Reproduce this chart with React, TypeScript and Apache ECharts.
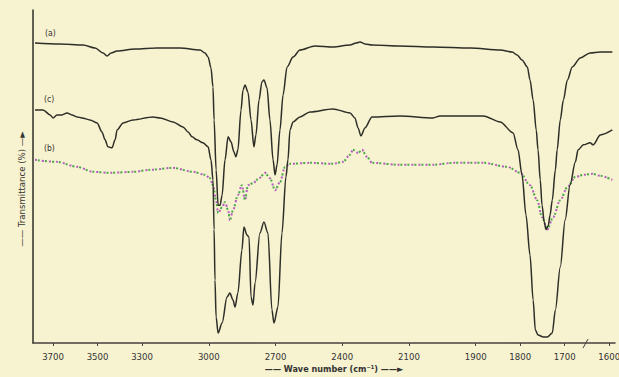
import React, { useEffect, useRef } from "react";
import * as echarts from "echarts";

// Wavenumbers (cm^-1) and transmittance (%)
const waveA = [3781, 3669, 3565, 3511, 3475, 3457, 3439, 3412, 3331, 3233, 3129, 3039, 3017, 3003, 2990, 2981, 2976, 2967, 2958, 2949, 2940, 2927, 2913, 2900, 2887, 2878, 2869, 2855, 2846, 2837, 2824, 2810, 2797, 2788, 2774, 2761, 2752, 2738, 2725, 2711, 2702, 2693, 2680, 2666, 2648, 2621, 2590, 2523, 2442, 2365, 2338, 2320, 2298, 2266, 2141, 1996, 1912, 1845, 1818, 1807, 1796, 1784, 1778, 1771, 1764, 1760, 1755, 1751, 1746, 1742, 1737, 1733, 1728, 1721, 1717, 1710, 1703, 1694, 1683, 1665, 1643, 1620, 1593];
const transA = [90.1, 89.8, 89.5, 88.6, 87.1, 86.2, 87.1, 87.7, 88.3, 88.6, 88.6, 88.0, 87.1, 85.9, 82.6, 76.9, 67.0, 52.0, 41.4, 41.4, 44.4, 55.0, 61.9, 60.4, 57.4, 55.9, 58.0, 70.0, 76.0, 77.5, 75.4, 67.0, 58.9, 62.5, 73.0, 78.4, 79.0, 76.6, 67.0, 55.0, 50.5, 53.5, 64.0, 74.5, 82.9, 85.9, 88.0, 89.2, 88.9, 89.5, 90.1, 90.4, 89.8, 89.5, 89.2, 88.9, 88.6, 88.0, 87.4, 86.5, 85.0, 82.9, 79.0, 73.0, 64.0, 58.0, 49.0, 41.4, 36.3, 34.1, 35.2, 38.4, 42.9, 52.0, 58.0, 67.0, 73.0, 79.0, 82.9, 85.6, 87.1, 87.4, 87.4];

const waveC = [3781, 3745, 3713, 3700, 3682, 3660, 3637, 3615, 3592, 3570, 3534, 3502, 3480, 3466, 3453, 3435, 3421, 3412, 3385, 3340, 3251, 3219, 3161, 3116, 3093, 3075, 3053, 3026, 3003, 2990, 2981, 2976, 2972, 2967, 2958, 2940, 2918, 2905, 2891, 2882, 2869, 2851, 2842, 2828, 2819, 2810, 2801, 2792, 2770, 2752, 2734, 2716, 2707, 2689, 2671, 2653, 2644, 2635, 2621, 2590, 2545, 2442, 2365, 2343, 2329, 2316, 2298, 2266, 2141, 1996, 1980, 1883, 1845, 1816, 1805, 1796, 1787, 1778, 1771, 1766, 1760, 1748, 1739, 1728, 1721, 1710, 1699, 1688, 1676, 1670, 1658, 1643, 1636, 1620, 1593];
const transC = [70.0, 70.0, 68.5, 67.6, 68.5, 68.5, 69.1, 68.5, 67.9, 67.6, 67.0, 66.1, 63.4, 61.0, 58.9, 58.6, 61.0, 64.0, 66.1, 67.0, 67.9, 67.6, 66.4, 64.9, 63.4, 61.9, 61.0, 60.1, 58.9, 55.0, 49.0, 34.1, 18.9, 7.8, 3.0, 6.0, 13.8, 15.0, 12.9, 10.8, 15.0, 27.9, 34.8, 32.4, 31.8, 13.8, 11.4, 18.0, 33.0, 36.3, 33.0, 9.9, 6.0, 10.8, 33.0, 49.9, 55.0, 64.0, 66.4, 67.9, 69.4, 70.3, 69.1, 67.6, 64.6, 62.2, 64.6, 67.9, 68.2, 67.6, 68.2, 68.2, 66.4, 63.1, 58.0, 50.5, 38.4, 26.4, 12.9, 3.9, 2.4, 1.8, 1.8, 3.0, 9.9, 22.8, 37.0, 47.5, 54.4, 58.0, 59.5, 60.1, 59.5, 62.5, 64.0];

const waveB = [3781, 3682, 3592, 3520, 3444, 3340, 3264, 3161, 3071, 3017, 2994, 2981, 2967, 2958, 2940, 2927, 2913, 2905, 2891, 2869, 2851, 2837, 2824, 2801, 2774, 2747, 2725, 2702, 2680, 2657, 2635, 2545, 2442, 2397, 2365, 2352, 2329, 2311, 2289, 2266, 2141, 1996, 1951, 1883, 1829, 1800, 1778, 1762, 1751, 1739, 1726, 1710, 1694, 1676, 1658, 1638, 1620, 1593];
const transB = [55.0, 54.4, 52.9, 51.4, 51.1, 51.4, 52.0, 52.6, 51.4, 50.5, 49.5, 47.4, 42.9, 39.0, 40.8, 42.3, 39.9, 36.9, 39.9, 44.4, 47.4, 42.9, 47.4, 48.0, 49.5, 51.1, 49.5, 45.9, 48.3, 52.9, 53.8, 54.1, 53.8, 54.4, 56.5, 58.0, 57.1, 58.0, 55.9, 54.1, 53.5, 53.5, 54.1, 54.1, 52.9, 51.1, 47.4, 42.9, 37.8, 34.1, 37.8, 42.9, 46.8, 49.9, 50.5, 50.8, 50.2, 49.0];

const tickWaves = [3700, 3500, 3300, 3000, 2700, 2400, 2100, 1900, 1800, 1700, 1600];
const curveNames = ["(a)", "(c)", "(b)"];
const xTitle = "—— Wave number (cm⁻¹) ——►";
const yTitle = "—— Transmittance (%) —►";

// Scale change at 2000 cm^-1 (expanded by 2 below)
const toT = (w: number) => (w >= 2000 ? w : 2000 - 2 * (2000 - w));
const fromT = (t: number) => (t >= 2000 ? t : 2000 - (2000 - t) / 2);

const INK = "#2e2e28";
const BG = "#f7f2cf";

export default function App() {
  const ref = useRef<HTMLDivElement>(null);
  useEffect(() => {
    if (!ref.current) return;
    const chart = echarts.init(ref.current, undefined, { renderer: "svg", width: 619, height: 377 });
    const mk = (ws: number[], vs: number[]) => ws.map((w, i) => [toT(w), vs[i]]);
    const tickT = tickWaves.map(toT);
    const font = "'Liberation Sans Narrow', 'DejaVu Sans Condensed', 'DejaVu Sans', sans-serif";
    chart.setOption({
      animation: false,
      backgroundColor: BG,
      grid: { left: 33, right: 4, top: 10, bottom: 34, containLabel: false, outerBoundsMode: "none" },
      xAxis: {
        type: "value",
        inverse: true,
        min: 1174,
        max: 3790,
        axisLine: { show: true, lineStyle: { color: "#4a4040", width: 1.5 } },
        axisTick: { show: true, customValues: tickT, length: 3, lineStyle: { color: "#4a4040" } },
        axisLabel: {
          customValues: tickT,
          formatter: (v: number) => String(Math.round(fromT(v))),
          color: "#333",
          fontSize: 9.5,
          fontFamily: font,
          margin: 8,
          hideOverlap: false,
        },
        splitLine: { show: false },
      },
      yAxis: {
        type: "value",
        min: 0,
        max: 100,
        axisLine: { show: true, lineStyle: { color: INK, width: 1.5 } },
        axisTick: { show: false },
        axisLabel: { show: false },
        splitLine: { show: false },
      },
      graphic: [
        {
          type: "text",
          x: 334,
          y: 369,
          style: {
            text: xTitle,
            fill: "#333",
            font: `bold 9px ${font}`,
            align: "center",
            verticalAlign: "middle",
          },
        },
        {
          type: "text",
          x: 21,
          y: 189,
          rotation: Math.PI / 2,
          style: {
            text: yTitle,
            fill: "#333",
            font: `9.5px ${font}`,
            align: "center",
            verticalAlign: "middle",
          },
        },
        { type: "text", x: 45, y: 33, style: { text: curveNames[0], fill: "#333", font: `8.5px ${font}`, verticalAlign: "middle" } },
        { type: "text", x: 44, y: 99, style: { text: curveNames[1], fill: "#333", font: `8.5px ${font}`, verticalAlign: "middle" } },
        { type: "text", x: 44, y: 148, style: { text: curveNames[2], fill: "#333", font: `8.5px ${font}`, verticalAlign: "middle" } },
        { type: "line", shape: { x1: 583, y1: 348, x2: 588, y2: 339 }, style: { stroke: "#4a4040", lineWidth: 1 } },
      ],
      series: [
        {
          type: "line",
          data: mk(waveB, transB),
          showSymbol: false,
          smooth: 0.3,
          smoothMonotone: "x",
          lineStyle: { color: "#b25fbf", width: 2, type: [2, 5], dashOffset: 0 },
          z: 2,
        },
        {
          type: "line",
          data: mk(waveB, transB),
          showSymbol: false,
          smooth: 0.3,
          smoothMonotone: "x",
          lineStyle: { color: "#4aa84a", width: 2, type: [2, 5], dashOffset: 3.5 },
          z: 2,
        },
        {
          type: "line",
          data: mk(waveA, transA),
          showSymbol: false,
          smooth: 0.3,
          smoothMonotone: "x",
          lineStyle: { color: INK, width: 1.5 },
          z: 3,
        },
        {
          type: "line",
          data: mk(waveC, transC),
          showSymbol: false,
          smooth: 0.3,
          smoothMonotone: "x",
          lineStyle: { color: INK, width: 1.5 },
          z: 3,
        },
      ],
    });
    return () => chart.dispose();
  }, []);
  return (
    <div
      ref={ref}
      style={{ position: "fixed", left: 0, top: 0, width: 619, height: 377 }}
    />
  );
}
